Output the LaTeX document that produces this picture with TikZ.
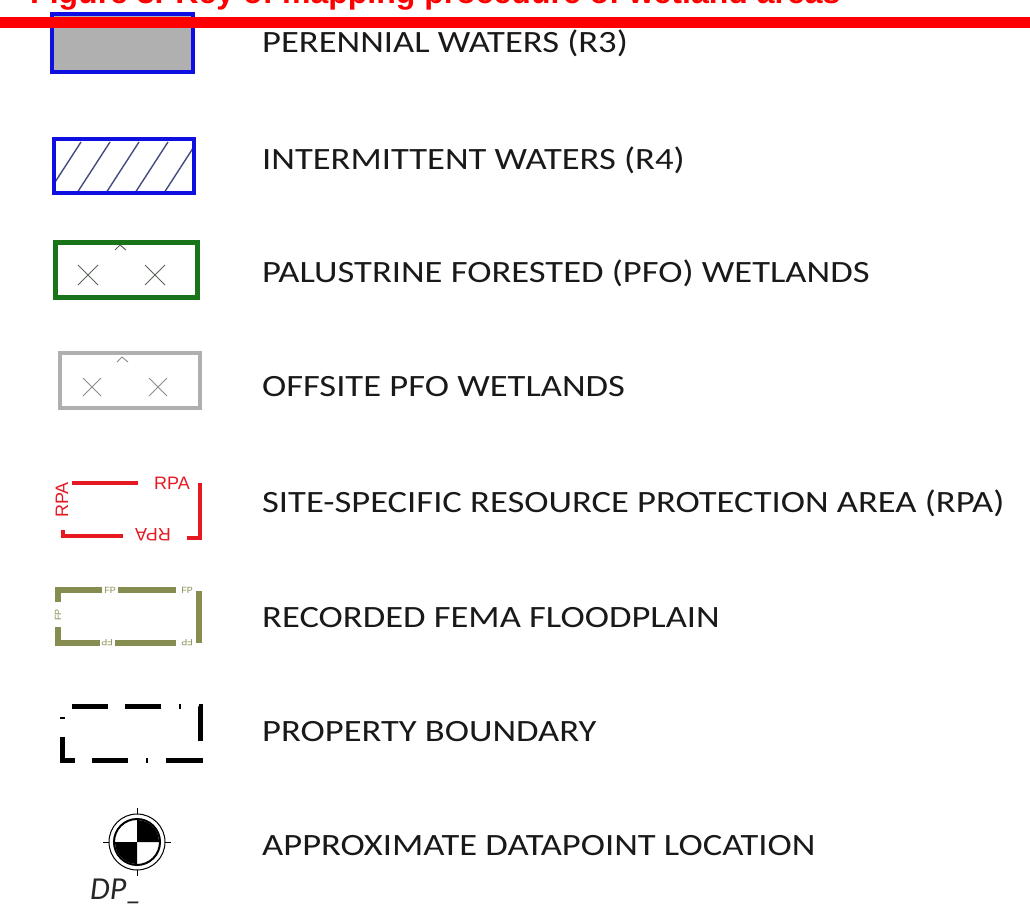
\documentclass[tikz,border=0pt]{standalone}
\usepackage{fontspec}
\setmainfont{Carlito}
\newfontfamily\lblfont{Carlito}[FakeStretch=1.18]
\newfontfamily\titlefont{Liberation Sans}
\newfontfamily\tagfont{Liberation Sans}
\definecolor{barred}{RGB}{255,0,0}
\definecolor{rpared}{RGB}{230,25,35}
\definecolor{fpolive}{RGB}{135,140,80}
\definecolor{pfogreen}{RGB}{25,115,25}
\definecolor{waterblue}{RGB}{15,15,225}
\definecolor{offgray}{RGB}{175,175,175}
\definecolor{markgray}{RGB}{90,100,90}

\begin{document}
\begin{tikzpicture}[x=1pt,y=-1pt,
    lbl/.style={anchor=base west,inner sep=0pt,text=black!90,font=\lblfont\fontsize{31}{31}\selectfont},
    rpa/.style={draw=rpared,line width=4pt},
    rpatag/.style={inner sep=0pt,text=rpared,font=\tagfont\fontsize{18}{18}\selectfont},
    fp/.style={draw=fpolive,line width=6pt},
    fptag/.style={inner sep=0pt,text=fpolive,font=\tagfont\fontsize{9}{9}\selectfont}]
  \useasboundingbox (0,0) rectangle (1030,920);

  % clipped title and rule
  \begin{scope}
    \clip (0,0) rectangle (1030,920);
    \node[anchor=base west,inner sep=0pt,text=barred,
      font=\titlefont\bfseries\fontsize{32}{32}\selectfont] (title) at (30,4)
      {Figure 3. Key of mapping procedure of wetland areas};
  \end{scope}

  % perennial waters
  \filldraw[draw=waterblue,fill=gray!62,line width=4pt] (52,14) rectangle (193,72);
  \fill[barred] (0,17) rectangle (1030,28);
  \node[lbl] (perLbl) at (262,53) {PERENNIAL WATERS (R3)};

  % intermittent waters
  \begin{scope}
    \clip (54,139) rectangle (194,193);
    \foreach \k in {-1,...,5}
      \draw[markgray!70!waterblue,line width=1.4pt] (48+\k*29,193) -- (81+\k*29,142);
  \end{scope}
  \draw[waterblue,line width=4pt] (54,139) rectangle (194,193);
  \node[lbl] (intLbl) at (262,170) {INTERMITTENT WATERS (R4)};

  % pfo wetlands
  \draw[pfogreen,line width=5pt] (55,242) rectangle (197,297);
  \draw[markgray,line width=1pt] (78,265) -- (98,285) (78,285) -- (98,265);
  \draw[markgray,line width=1pt] (145,265) -- (165,285) (145,285) -- (165,265);
  \draw[markgray,line width=1pt] (115,250) -- (120,245) -- (126,250);
  \node[lbl] (pfoLbl) at (262,282) {PALUSTRINE FORESTED (PFO) WETLANDS};

  % offsite pfo
  \draw[offgray,line width=4pt] (60,353) rectangle (200,408);
  \draw[offgray!80!black,line width=0.9pt] (83,378) -- (101,396) (83,396) -- (101,378);
  \draw[offgray!80!black,line width=0.9pt] (149,378) -- (167,396) (149,396) -- (167,378);
  \draw[offgray!80!black,line width=0.9pt] (117,362) -- (122,357) -- (128,362);
  \node[lbl] (offLbl) at (262,396) {OFFSITE PFO WETLANDS};

  % rpa
  \draw[rpa] (72,483) -- (138,483);
  \draw[rpa] (200,483) -- (200,538) -- (187,538);
  \draw[rpa] (63,530) -- (63,536) -- (123,536);
  \node[rpatag] (rpaTop) at (172,483) {RPA};
  \node[rpatag,rotate=180] (rpaBot) at (153,535) {RPA};
  \node[rpatag,rotate=90] (rpaLeft) at (62,500) {RPA};
  \node[lbl] (rpaLbl) at (262,512) {SITE-SPECIFIC RESOURCE PROTECTION AREA (RPA)};

  % fema floodplain
  \draw[fp] (58,602) -- (58,590) -- (102,590);
  \draw[fp] (118,590) -- (176,590);
  \draw[fp] (199,591) -- (199,643);
  \draw[fp] (58,627) -- (58,643) -- (100,643);
  \draw[fp] (115,643) -- (176,643);
  \node[fptag] (fpA) at (110,590) {FP};
  \node[fptag] (fpB) at (187,590) {FP};
  \node[fptag,rotate=90] (fpC) at (58,615) {FP};
  \node[fptag,rotate=180] (fpD) at (107,643) {FP};
  \node[fptag,rotate=180] (fpE) at (187,643) {FP};
  \node[lbl] (fpLbl) at (262,627) {RECORDED FEMA FLOODPLAIN};

  % property boundary
  \draw[line width=5pt,dash pattern=on 36pt off 17pt on 36pt off 18pt on 2pt off 18pt,
    dash phase=117pt] (62,706) -- (200,706) -- (200,760) -- (62,760) -- cycle;
  \node[lbl] (bndLbl) at (262,741) {PROPERTY BOUNDARY};

  % datapoint
  \coordinate (dp) at (137,842);
  \fill (dp) -- ++(22,0) arc (0:-90:22) -- cycle;
  \fill (dp) -- ++(-22,0) arc (180:90:22) -- cycle;
  \draw[line width=2pt] (dp) circle (23);
  \draw[line width=1pt] (dp) circle (28);
  \draw[line width=1pt] (dp) ++(0,-28) -- ++(0,-6) (dp) ++(0,28) -- ++(0,6)
    (dp) ++(-28,0) -- ++(-6,0) (dp) ++(28,0) -- ++(6,0);
  \node[anchor=base west,inner sep=0pt,font=\itshape\fontsize{32}{32}\selectfont,
    text=black!85] (dpTag) at (90,899) {DP\_};
  \node[lbl] (dpLbl) at (262,855) {APPROXIMATE DATAPOINT LOCATION};
\end{tikzpicture}
\end{document}
